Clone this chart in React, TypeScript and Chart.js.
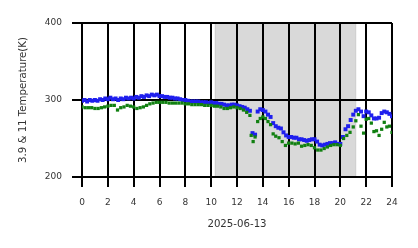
import { useEffect, useRef } from "react";
import { Chart, registerables } from "chart.js";

Chart.register(...registerables);

// ---- data ----
const blueHours = [
  0, 0.2, 0.4, 0.6, 0.8, 1, 1.2, 1.4, 1.6, 1.8, 2, 2.2, 2.4, 2.6, 2.8, 3, 3.2, 3.4, 3.6, 3.8,
  4, 4.2, 4.4, 4.6, 4.8, 5, 5.2, 5.4, 5.6, 5.8, 6, 6.2, 6.4, 6.6, 6.8, 7, 7.2, 7.4, 7.6, 7.8,
  8, 8.2, 8.4, 8.6, 8.8, 9, 9.2, 9.4, 9.6, 9.8, 10, 10.2, 10.4, 10.6, 10.8, 11, 11.2, 11.4, 11.6, 11.8,
  12, 12.2, 12.4, 12.6, 12.8, 13, 13.2, 13.4, 13.6, 13.8, 14, 14.2, 14.4, 14.6, 14.8, 15, 15.2, 15.4, 15.6, 15.8,
  16, 16.2, 16.4, 16.6, 16.8, 17, 17.2, 17.4, 17.6, 17.8, 18, 18.2, 18.4, 18.6, 18.8, 19, 19.2, 19.4, 19.6, 19.8,
  20, 20.2, 20.4, 20.6, 20.8, 21, 21.2, 21.4, 21.6, 21.8, 22, 22.2, 22.4, 22.6, 22.8, 23, 23.2, 23.4, 23.6, 23.8, 24,
];
const blueTemps = [
  299, 300, 298, 300, 299, 300, 299, 301, 300, 302, 301, 303, 301, 302, 300, 302, 301, 303, 302, 303,
  302, 304, 303, 305, 304, 306, 305, 307, 306, 307, 305, 305, 304, 304, 303, 303, 302, 302, 301, 300,
  300, 299, 298, 298, 298, 298, 297, 297, 297, 296, 297, 296, 296, 295, 295, 294, 293, 293, 294, 294,
  293, 292, 291, 290, 288, 286, 257, 255, 285, 288, 287, 285, 281, 278, 270, 266, 264, 263, 258, 254,
  252, 252, 251, 251, 249, 249, 248, 247, 248, 249, 249, 246, 242, 241, 242, 243, 244, 244, 245, 243,
  243, 252, 262, 266, 274, 281, 286, 288, 285, 279, 285, 284, 280, 276, 276, 277, 283, 285, 284, 282, 279,
];
const greenHours = [
  0, 0.25, 0.5, 0.75, 1, 1.25, 1.5, 1.75, 2, 2.25, 2.5, 2.75, 3, 3.25, 3.5, 3.75,
  4, 4.25, 4.5, 4.75, 5, 5.25, 5.5, 5.75, 6, 6.25, 6.5, 6.75, 7, 7.25, 7.5, 7.75,
  8, 8.25, 8.5, 8.75, 9, 9.25, 9.5, 9.75, 10, 10.25, 10.5, 10.75, 11, 11.25, 11.5, 11.75,
  12, 12.25, 12.5, 12.75, 13, 13.1, 13.25, 13.4, 13.6, 13.8, 14, 14.2, 14.4, 14.6, 14.8,
  15, 15.25, 15.5, 15.75, 16, 16.25, 16.5, 16.75, 17, 17.25, 17.5, 17.75, 18, 18.25, 18.5, 18.75,
  19, 19.25, 19.5, 19.75, 20, 20.25, 20.5, 20.75, 21, 21.2, 21.4, 21.6, 21.8, 22, 22.2, 22.4,
  22.6, 22.8, 23, 23.2, 23.4, 23.6, 23.8, 24,
];
const greenTemps = [
  291, 290, 290, 290, 289, 289, 290, 291, 292, 293, 293, 287, 290, 291, 293, 292,
  291, 289, 290, 291, 293, 295, 296, 297, 297, 297, 297, 296, 296, 296, 296, 296,
  295, 295, 294, 294, 294, 294, 293, 293, 293, 292, 292, 291, 289, 289, 290, 291,
  290, 289, 287, 284, 280, 254, 246, 252, 272, 276, 278, 276, 272, 268, 256,
  253, 251, 246, 241, 244, 244, 243, 244, 240, 241, 242, 241, 238, 235, 235, 237,
  239, 241, 242, 242, 241, 250, 254, 258, 265, 273, 281, 266, 257, 275, 276, 270,
  259, 260, 254, 262, 271, 265, 266, 258,
];
const xTickValues = [0, 2, 4, 6, 8, 10, 12, 14, 16, 18, 20, 22, 24];
const yTickValues = [200, 300, 400];
const nightStart = 10.3;
const nightEnd = 21.2;
const xTitle = "2025-06-13";
const yTitle = "3.9 & 11 Temperature(K)";

const shadePlugin = {
  id: "nightShade",
  beforeDraw(chart: any) {
    const { ctx, chartArea, scales } = chart;
    const x0 = scales.x.getPixelForValue(nightStart);
    const x1 = scales.x.getPixelForValue(nightEnd);
    ctx.save();
    ctx.fillStyle = "#d9d9d9";
    ctx.fillRect(x0, chartArea.top, x1 - x0, chartArea.bottom - chartArea.top);
    ctx.strokeStyle = "rgba(0,0,0,0.07)";
    ctx.lineWidth = 1.5;
    ctx.strokeRect(x0, chartArea.top, x1 - x0, chartArea.bottom - chartArea.top);
    ctx.restore();
  },
};

export default function App() {
  const ref = useRef<HTMLCanvasElement>(null);
  useEffect(() => {
    document.body.style.margin = "0";
    const canvas = ref.current;
    if (!canvas) return;
    const chart = new Chart(canvas, {
      type: "scatter",
      data: {
        datasets: [
          {
            label: "11",
            data: greenHours.map((h, i) => ({ x: h, y: greenTemps[i] })),
            backgroundColor: "#118011",
            borderWidth: 0,
            pointStyle: "rect",
            pointRadius: 2.3,
          },
          {
            label: "3.9",
            data: blueHours.map((h, i) => ({ x: h, y: blueTemps[i] })),
            backgroundColor: "#1f1fee",
            borderWidth: 0,
            pointStyle: "rect",
            pointRadius: 2.8,
          },
        ],
      },
      options: {
        animation: false,
        responsive: false,
        devicePixelRatio: 1,
        layout: { padding: { left: 0, top: 23, right: 26, bottom: 0 } },
        plugins: { legend: { display: false }, tooltip: { enabled: false } },
        scales: {
          x: {
            type: "linear",
            min: 0,
            max: 24,
            afterFit: (s: any) => {
              s.height = 71;
            },
            afterBuildTicks: (s: any) => {
              s.ticks = xTickValues.map((v) => ({ value: v }));
            },
            ticks: {
              color: "#333",
              font: { family: "DejaVu Sans", size: 9 },
              padding: 10,
              maxRotation: 0,
              autoSkip: false,
            },
            grid: { color: "#000", lineWidth: 2, tickLength: 10, tickColor: "#000", tickWidth: 2 },
            border: { display: false },
            title: {
              display: true,
              text: xTitle,
              color: "#333",
              font: { family: "DejaVu Sans", size: 10.2 },
              padding: { top: 0, bottom: 18 },
            },
          },
          y: {
            type: "linear",
            min: 200,
            max: 400,
            afterFit: (s: any) => {
              s.width = 82;
            },
            afterBuildTicks: (s: any) => {
              s.ticks = yTickValues.map((v) => ({ value: v }));
            },
            ticks: {
              color: "#333",
              font: { family: "DejaVu Sans", size: 9 },
              padding: 10,
            },
            grid: { color: "#000", lineWidth: 2, tickLength: 10, tickColor: "#000", tickWidth: 2 },
            border: { display: false },
            title: {
              display: true,
              text: yTitle,
              color: "#333",
              font: { family: "DejaVu Sans", size: 10.2 },
              padding: { top: 17, bottom: 0 },
            },
          },
        },
      },
      plugins: [shadePlugin],
    });
    return () => chart.destroy();
  }, []);
  return (
    <div style={{ position: "absolute", left: 0, top: 0, width: 418, height: 248 }}>
      <canvas ref={ref} width={418} height={248} />
    </div>
  );
}
